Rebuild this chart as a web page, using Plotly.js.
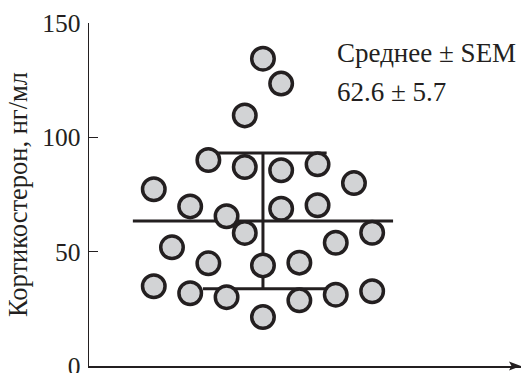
<!DOCTYPE html>
<html>
<head>
<meta charset="utf-8">
<script src="https://cdn.plot.ly/plotly-3.0.1.min.js"></script>
<style>html,body{margin:0;padding:0;background:#fff;}#chart{width:521px;height:373px;}</style>
</head>
<body>
<div id="chart"></div>
<script>
// Jitter column (slot) of each animal and its corticosterone value
const slots = [0, 1, -1, -3, -1, 1, 3, 5, -6, -4, -2, 1, 3, -1, -5, 4, 6, -3, 0, 2, -6, -4, -2, 0, 2, 4, 6];
const values = [134.4, 123.5, 109.6, 90.1, 87.0, 85.6, 88.2, 80.0, 77.3, 69.8, 65.5, 68.8, 70.3, 58.2, 51.9, 53.9, 58.3, 44.9, 44.0, 45.2, 34.9, 31.8, 30.1, 21.4, 28.7, 31.2, 32.7];
// summary lines (as drawn)
const meanValue = 63.4;
const upperValue = 93.1;
const lowerValue = 33.8;
const meanSpan = [-7.15, 7.15];
const sdSpan = [-3.3, 3.5];
const yTicks = [0, 50, 100, 150];
const yTitle = 'Кортикостерон, нг/мл';
const legendLine1 = 'Среднее ± SEM';
const legendLine2 = '62.6 ± 5.7';

const FONT = '"Liberation Serif", "Times New Roman", serif';
const INK = '#231f20';
const lineStyle = {color: INK, width: 3};

const traces = [
  {x: meanSpan, y: [meanValue, meanValue], mode: 'lines', line: lineStyle, hoverinfo: 'skip'},
  {x: sdSpan, y: [upperValue, upperValue], mode: 'lines', line: lineStyle, hoverinfo: 'skip'},
  {x: sdSpan, y: [lowerValue, lowerValue], mode: 'lines', line: lineStyle, hoverinfo: 'skip'},
  {x: [0, 0], y: [lowerValue, upperValue], mode: 'lines', line: lineStyle, hoverinfo: 'skip'},
  {x: slots, y: values, mode: 'markers', cliponaxis: false,
   marker: {size: 22.5, color: '#d2d3d5', line: {color: INK, width: 3.5}}}
];

const layout = {
  width: 521, height: 373,
  margin: {l: 89, r: 0, t: 22.7, b: 7.3},
  paper_bgcolor: '#fff', plot_bgcolor: '#fff',
  showlegend: false,
  font: {family: FONT, size: 26, color: INK},
  xaxis: {range: [-9.56, 14.18], showline: true, linecolor: INK, linewidth: 1.5,
          showgrid: false, zeroline: false, showticklabels: false, ticks: ''},
  yaxis: {range: [0, 150], showline: true, linecolor: INK, linewidth: 1.5,
          showgrid: false, zeroline: false, ticks: 'inside', ticklen: 9, tickwidth: 1.5,
          tickcolor: INK, tickvals: yTicks, ticktext: yTicks.map(String),
          ticklabeloverflow: 'allow',
          tickfont: {family: FONT, size: 25.5, color: INK}, ticklabelstandoff: 2,
          title: {text: yTitle, font: {family: FONT, size: 26.5, color: INK}, standoff: 7}},
  shapes: [
    {type: 'path', xref: 'paper', yref: 'paper',
     path: 'M 1,0 L 0.9722,0.0131 L 0.9780,0 L 0.9722,-0.0131 Z',
     fillcolor: INK, line: {width: 0}}
  ],
  annotations: [
    {xref: 'paper', yref: 'paper', x: 0.569, y: 0.912, xanchor: 'left', yanchor: 'middle',
     text: legendLine1, showarrow: false, font: {family: FONT, size: 27, color: INK}},
    {xref: 'paper', yref: 'paper', x: 0.569, y: 0.798, xanchor: 'left', yanchor: 'middle',
     text: legendLine2, showarrow: false, font: {family: FONT, size: 27, color: INK}}
  ]
};

Plotly.newPlot('chart', traces, layout, {displayModeBar: false, staticPlot: true});
</script>
</body>
</html>
